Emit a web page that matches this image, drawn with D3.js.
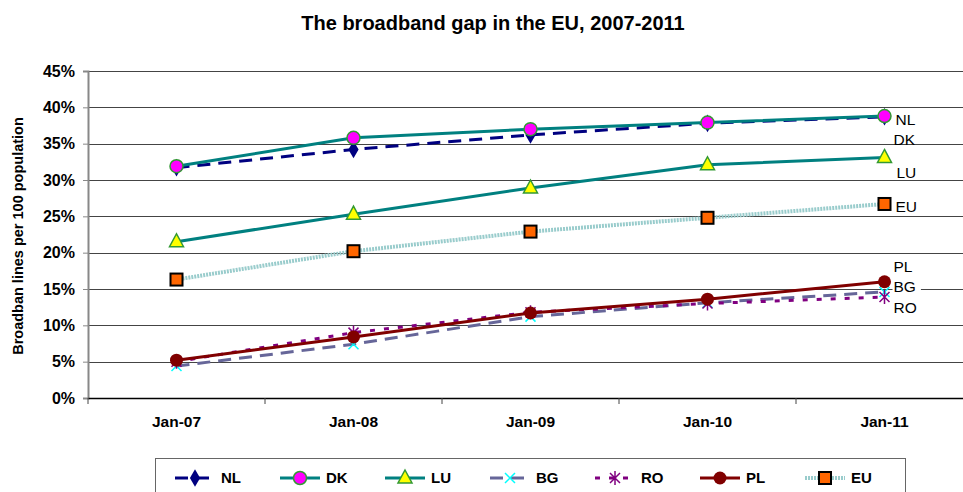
<!DOCTYPE html>
<html>
<head>
<meta charset="utf-8">
<script src="https://cdn.jsdelivr.net/npm/d3@7"></script>
<style>
  body { margin: 0; background: #fff; }
  svg { display: block; font-family: "Liberation Sans", Arial, sans-serif; }
</style>
</head>
<body>
<svg id="chart" width="963" height="492"></svg>
<script>
// data
const months = ["Jan-07", "Jan-08", "Jan-09", "Jan-10", "Jan-11"];
const seriesNames = ["NL", "DK", "LU", "BG", "RO", "PL", "EU"];
const nl = [0.317, 0.342, 0.362, 0.378, 0.387];
const dk = [0.319, 0.358, 0.370, 0.379, 0.388];
const lu = [0.215, 0.253, 0.289, 0.321, 0.331];
const bg = [0.044, 0.074, 0.112, 0.131, 0.146];
const ro = [0.050, 0.090, 0.118, 0.130, 0.139];
const pl = [0.052, 0.084, 0.117, 0.136, 0.160];
const eu = [0.163, 0.202, 0.229, 0.248, 0.267];
const yTicks = [0, 0.05, 0.10, 0.15, 0.20, 0.25, 0.30, 0.35, 0.40, 0.45];

const values = { NL: nl, DK: dk, LU: lu, BG: bg, RO: ro, PL: pl, EU: eu };

// styles
const styles = {
  NL: { stroke: "#000080", width: 3, dash: "13,8", marker: "diamond", fill: "#000080", mstroke: "#000080" },
  DK: { stroke: "#008080", width: 3, dash: null, marker: "circle", fill: "#ff00ff", mstroke: "#339933" },
  LU: { stroke: "#008080", width: 3, dash: null, marker: "triangle", fill: "#ffff00", mstroke: "#339933" },
  BG: { stroke: "#666699", width: 3, dash: "13,8", marker: "x", fill: "none", mstroke: "#00ffff" },
  RO: { stroke: "#800080", width: 3, dash: "5,9", marker: "star", fill: "none", mstroke: "#800080" },
  PL: { stroke: "#800000", width: 3, dash: null, marker: "dot", fill: "#800000", mstroke: "#800000" },
  EU: { stroke: "#99cccc", width: 4, dash: "2,1", marker: "square", fill: "#ff6600", mstroke: "#000000" }
};
// end-of-line label nudges (px from last point)
const labelNudge = { NL: [11, 3], DK: [9, 24], LU: [12, 15], EU: [11, 3], PL: [9, -15], BG: [9, -5], RO: [9, 11] };

const svg = d3.select("#chart");

const x = d3.scaleBand().domain(months).range([88, 973]).padding(0);
const y = d3.scaleLinear().domain([0, 0.45]).range([398, 71]);
const cx = d => x(d) + x.bandwidth() / 2;

// title
svg.append("text")
  .attr("x", 493).attr("y", 30)
  .attr("text-anchor", "middle")
  .attr("font-size", 20).attr("font-weight", "bold")
  .text("The broadband gap in the EU, 2007-2011");

// gridlines
svg.append("g").selectAll("line").data(yTicks.slice(1)).join("line")
  .attr("x1", 88).attr("x2", 963)
  .attr("y1", d => Math.round(y(d)) + 0.5).attr("y2", d => Math.round(y(d)) + 0.5)
  .attr("stroke", "#444").attr("stroke-width", 1);

// y axis
const yAxis = svg.append("g")
  .attr("transform", "translate(88,0)")
  .call(d3.axisLeft(y).tickValues(yTicks).tickFormat(d3.format(".0%")).tickSize(5).tickPadding(8));
yAxis.select(".domain").attr("stroke", "#888").attr("stroke-width", 2);
yAxis.selectAll(".tick line").attr("stroke", "#888");
yAxis.selectAll("text").attr("font-size", 16).attr("font-weight", "bold").attr("fill", "#000")
  .attr("font-family", "Liberation Sans, Arial, sans-serif");

// x axis
const xAxis = svg.append("g")
  .attr("transform", "translate(0,398)")
  .call(d3.axisBottom(x).tickSize(0).tickPadding(18));
xAxis.select(".domain").attr("stroke", "#000").attr("stroke-width", 1.5);
xAxis.selectAll("text").attr("font-size", 15.5).attr("font-weight", "bold").attr("fill", "#000")
  .attr("font-family", "Liberation Sans, Arial, sans-serif");
svg.append("g").selectAll("line").data(months).join("line")
  .attr("x1", d => x(d)).attr("x2", d => x(d))
  .attr("y1", 398).attr("y2", 404)
  .attr("stroke", "#444");

// y axis title
svg.append("text")
  .attr("transform", "translate(23,236) rotate(-90)")
  .attr("text-anchor", "middle")
  .attr("font-size", 14.5).attr("font-weight", "bold")
  .text("Broadban lines per 100 population");

// marker drawing
function drawMarker(g, type, s) {
  if (type === "circle") {
    g.append("circle").attr("r", 6.5).attr("fill", s.fill).attr("stroke", s.mstroke).attr("stroke-width", 1.5);
  } else if (type === "dot") {
    g.append("circle").attr("r", 6.5).attr("fill", s.fill);
  } else if (type === "diamond") {
    g.append("path").attr("d", d3.symbol(d3.symbolDiamond, 90)()).attr("fill", s.fill);
  } else if (type === "triangle") {
    g.append("path").attr("d", "M0,-8L7,5L-7,5Z").attr("fill", s.fill).attr("stroke", s.mstroke).attr("stroke-width", 1.5);
  } else if (type === "square") {
    g.append("rect").attr("x", -6).attr("y", -6).attr("width", 12).attr("height", 12)
      .attr("fill", s.fill).attr("stroke", s.mstroke).attr("stroke-width", 2);
  } else if (type === "x") {
    g.append("path").attr("d", "M-5,-5L5,5M-5,5L5,-5").attr("stroke", s.mstroke).attr("stroke-width", 1.5);
  } else if (type === "star") {
    g.append("path").attr("d", "M-5,-5L5,5M-5,5L5,-5M0,-7L0,7").attr("stroke", s.mstroke).attr("stroke-width", 1.5);
  }
}

const line = d3.line().x((d, i) => cx(months[i])).y(d => y(d));

// series
seriesNames.forEach(name => {
  const s = styles[name];
  const g = svg.append("g");
  g.append("path")
    .attr("d", line(values[name]))
    .attr("fill", "none")
    .attr("stroke", s.stroke).attr("stroke-width", s.width)
    .attr("stroke-dasharray", s.dash);
  values[name].forEach((v, i) => {
    drawMarker(g.append("g").attr("transform", `translate(${cx(months[i])},${y(v)})`), s.marker, s);
  });
});

// end labels
seriesNames.forEach(name => {
  const v = values[name];
  const lx = cx(months[4]) + labelNudge[name][0];
  const ly = y(v[4]) + labelNudge[name][1];
  const t = svg.append("text")
    .attr("x", lx).attr("y", ly).attr("dy", "0.35em")
    .attr("font-size", 15.5).attr("fill", "#000")
    .text(name);
  if (name === "BG") {
    const b = t.node().getBBox();
    svg.insert("rect", () => t.node())
      .attr("x", b.x - 1).attr("y", b.y).attr("width", b.width + 6).attr("height", b.height)
      .attr("fill", "#fff");
  }
});

// legend
const legend = svg.append("g");
legend.append("rect")
  .attr("x", 155.5).attr("y", 458.5).attr("width", 750).attr("height", 40)
  .attr("fill", "#fff").attr("stroke", "#666").attr("stroke-width", 1);
const legX = d3.scalePoint().domain(seriesNames).range([175, 805]);
seriesNames.forEach(name => {
  const s = styles[name];
  const gx = legX(name);
  const gy = 478;
  const lg = legend.append("g");
  lg.append("line")
    .attr("x1", gx).attr("x2", gx + 40).attr("y1", gy).attr("y2", gy)
    .attr("stroke", s.stroke).attr("stroke-width", s.width)
    .attr("stroke-dasharray", s.dash);
  drawMarker(lg.append("g").attr("transform", `translate(${gx + 20},${gy})`), s.marker, s);
  lg.append("text")
    .attr("x", gx + 46).attr("y", gy).attr("dy", "0.36em")
    .attr("font-size", 15).attr("font-weight", "bold")
    .text(name);
});
</script>
</body>
</html>
